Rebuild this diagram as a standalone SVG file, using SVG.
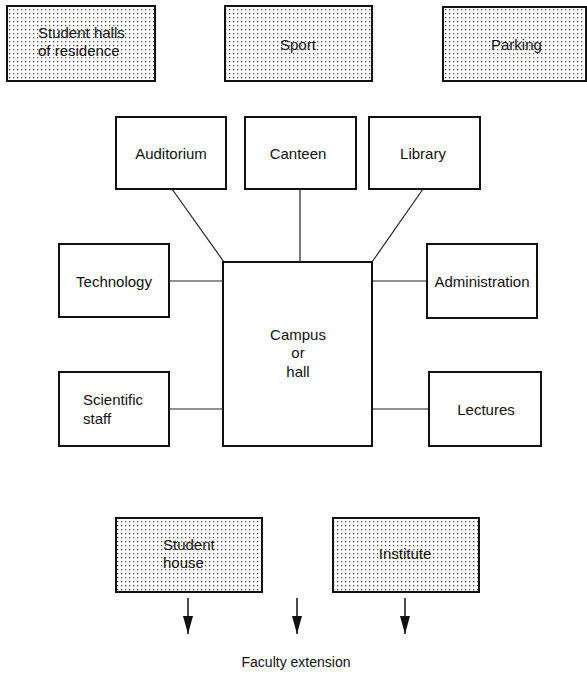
<svg xmlns="http://www.w3.org/2000/svg" width="587" height="675" viewBox="0 0 587 675">
  <defs>
    <!-- fine dot screen used for the outer facilities -->
    <pattern id="dots" x="0" y="0" width="4" height="4" patternUnits="userSpaceOnUse">
      <rect x="1" y="1" width="1.3" height="1.3" fill="#4a4a4a"/>
    </pattern>
    <!-- solid triangular arrowhead, drawn along +x so orient="auto" points it down the line -->
    <marker id="arrow" viewBox="0 0 18 10" refX="18" refY="5" markerWidth="18" markerHeight="10" markerUnits="userSpaceOnUse" orient="auto">
      <path d="M0,0 L18,5 L0,10 Z" fill="#111"/>
    </marker>
  </defs>
  <style>
    .box { fill: #fff; stroke: #111; stroke-width: 2; }
    .shaded { fill: url(#dots); stroke: #111; stroke-width: 2; }
    .lbl { font-family: "Liberation Sans", Arial, sans-serif; font-size: 15px; fill: #111; }
    .mid { text-anchor: middle; }
    .link { stroke: #222; stroke-width: 1.2; fill: none; }
    .arr { stroke: #111; stroke-width: 1.5; fill: none; }
  </style>

  <rect width="587" height="675" fill="#fff"/>

  <!-- connectors -->
  <g id="connectors">
    <line class="link" x1="172" y1="189" x2="224" y2="262"/>
    <line class="link" x1="300" y1="189" x2="300" y2="262"/>
    <line class="link" x1="423" y1="189" x2="372" y2="262"/>
    <line class="link" x1="169" y1="281" x2="223" y2="281"/>
    <line class="link" x1="372" y1="281" x2="427" y2="281"/>
    <line class="link" x1="169" y1="409" x2="223" y2="409"/>
    <line class="link" x1="372" y1="409" x2="429" y2="409"/>
    <line class="arr" x1="188" y1="598" x2="188" y2="634" marker-end="url(#arrow)"/>
    <line class="arr" x1="297" y1="598" x2="297" y2="634" marker-end="url(#arrow)"/>
    <line class="arr" x1="405" y1="598" x2="405" y2="634" marker-end="url(#arrow)"/>
  </g>

  <!-- outer facilities (top row) -->
  <g id="student-halls">
    <rect class="shaded" x="7" y="6" width="148" height="75"/>
    <text class="lbl" x="38" y="38">Student halls</text>
    <text class="lbl" x="38" y="56">of residence</text>
  </g>
  <g id="sport">
    <rect class="shaded" x="225" y="6" width="147" height="75"/>
    <text class="lbl" x="280" y="50">Sport</text>
  </g>
  <g id="parking">
    <rect class="shaded" x="443" y="7" width="143" height="74"/>
    <text class="lbl" x="491" y="50">Parking</text>
  </g>

  <!-- facilities around the campus -->
  <g id="auditorium">
    <rect class="box" x="116" y="117" width="110" height="72"/>
    <text class="lbl mid" x="171" y="159">Auditorium</text>
  </g>
  <g id="canteen">
    <rect class="box" x="245" y="117" width="111" height="72"/>
    <text class="lbl mid" x="298" y="159">Canteen</text>
  </g>
  <g id="library">
    <rect class="box" x="369" y="117" width="111" height="72"/>
    <text class="lbl mid" x="423" y="159">Library</text>
  </g>
  <g id="technology">
    <rect class="box" x="59" y="244" width="110" height="73"/>
    <text class="lbl mid" x="114" y="287">Technology</text>
  </g>
  <g id="administration">
    <rect class="box" x="427" y="244" width="110" height="74"/>
    <text class="lbl mid" x="482" y="287">Administration</text>
  </g>
  <g id="scientific-staff">
    <rect class="box" x="59" y="372" width="110" height="74"/>
    <text class="lbl" x="83" y="405">Scientific</text>
    <text class="lbl" x="83" y="424">staff</text>
  </g>
  <g id="lectures">
    <rect class="box" x="429" y="372" width="112" height="74"/>
    <text class="lbl mid" x="486" y="415">Lectures</text>
  </g>

  <!-- central campus -->
  <g id="campus">
    <rect class="box" x="223" y="262" width="149" height="184"/>
    <text class="lbl mid" x="298" y="340">Campus</text>
    <text class="lbl mid" x="298" y="358">or</text>
    <text class="lbl mid" x="298" y="377">hall</text>
  </g>

  <!-- outer facilities (bottom row) -->
  <g id="student-house">
    <rect class="shaded" x="116" y="518" width="146" height="74"/>
    <text class="lbl" x="163" y="550">Student</text>
    <text class="lbl" x="163" y="568">house</text>
  </g>
  <g id="institute">
    <rect class="shaded" x="333" y="518" width="146" height="74"/>
    <text class="lbl mid" x="405" y="559">Institute</text>
  </g>

  <g id="faculty-extension">
    <text class="lbl mid" x="296" y="667" style="font-size:14px">Faculty extension</text>
  </g>
</svg>
